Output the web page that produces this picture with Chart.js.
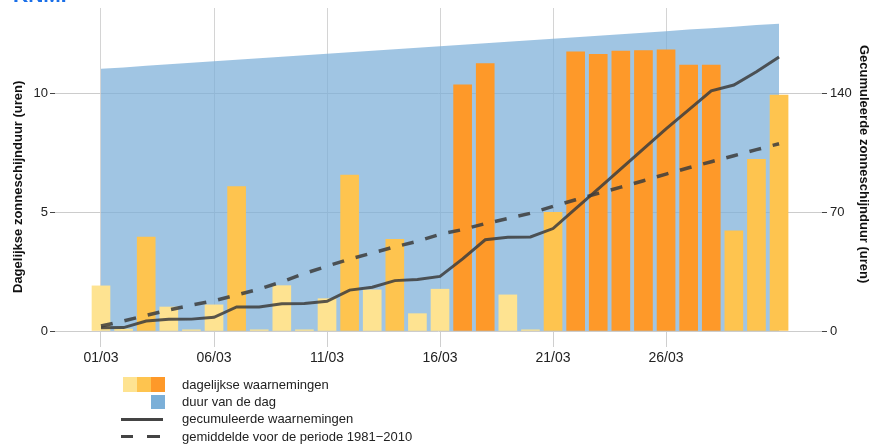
<!DOCTYPE html>
<html>
<head>
<meta charset="utf-8">
<script src="https://cdn.jsdelivr.net/npm/chart.js@4.4.1/dist/chart.umd.min.js"></script>
<style>
  html, body { margin: 0; padding: 0; background: #fff; }
  #wrap { position: relative; width: 874px; height: 446px; overflow: hidden; font-family: "Liberation Sans", Arial, sans-serif; }
  #logo { position: absolute; left: 13px; top: -16px; font: bold 21px/21px "Liberation Sans", Arial, sans-serif; color: #1a6fe8; }
  .sw { position: absolute; }
  .lbl { position: absolute; left: 182px; font-size: 13px; line-height: 16px; color: #222; white-space: nowrap; }
</style>
</head>
<body>
<div id="wrap">
  <canvas id="chart" width="874" height="446"></canvas>
  <div id="logo">KNMI</div>

  <div class="sw" style="left:123px;top:377px;width:14px;height:15px;background:#fee391"></div>
  <div class="sw" style="left:137px;top:377px;width:14px;height:15px;background:#fec44f"></div>
  <div class="sw" style="left:151px;top:377px;width:14px;height:15px;background:#fe9929"></div>
  <div class="lbl" style="top:377px">dagelijkse waarnemingen</div>

  <div class="sw" style="left:151px;top:395px;width:14px;height:14px;background:#7bafd8"></div>
  <div class="lbl" style="top:394px">duur van de dag</div>

  <div class="sw" style="left:121px;top:418px;width:42px;height:3px;background:#444"></div>
  <div class="lbl" style="top:411px">gecumuleerde waarnemingen</div>

  <div class="sw" style="left:121px;top:435px;width:12px;height:3px;background:#444"></div>
  <div class="sw" style="left:147px;top:435px;width:13px;height:3px;background:#444"></div>
  <div class="lbl" style="top:429px">gemiddelde voor de periode 1981−2010</div>
</div>

<script>
// maart, dagnummers
const days = [1, 2, 3, 4, 5, 6, 7, 8, 9, 10, 11, 12, 13, 14, 15, 16,
  17, 18, 19, 20, 21, 22, 23, 24, 25, 26, 27, 28, 29, 30, 31]

// daglengte (uren)
const dayLength = [11.04, 11.10, 11.17, 11.23, 11.29, 11.36, 11.42, 11.48, 11.55, 11.61,
  11.67, 11.74, 11.80, 11.86, 11.93, 11.99, 12.05, 12.12, 12.18, 12.24, 12.31,
  12.37, 12.43, 12.50, 12.56, 12.62, 12.69, 12.75, 12.81, 12.88, 12.94]

// dagelijkse zonneschijnduur (uren)
const sunshine = [1.9, 0.08, 3.95, 1.01, 0.05, 1.1, 6.08, 0.05, 1.91, 0.05, 1.36,
  6.56, 1.73, 3.86, 0.73, 1.76, 10.37, 11.26, 1.52, 0.05, 5.0, 11.75, 11.65,
  11.79, 11.81, 11.84, 11.2, 11.2, 4.22, 7.23, 9.93]

// gecumuleerd (uren)
const cumulative = [1.9, 2.0, 5.9, 6.9, 7.0, 8.1, 14.2, 14.2, 16.1, 16.2, 17.5,
  24.1, 25.8, 29.7, 30.4, 32.2, 42.5, 53.8, 55.3, 55.4, 60.4, 72.1, 83.8, 95.6,
  107.4, 119.2, 130.4, 141.6, 145.0, 152.8, 161.5]

// gemiddelde 1981-2010, gecumuleerd (uren)
const normal = [2.9, 5.9, 9.2, 12.4, 15.3, 17.8, 21.2, 24.7, 29.0, 33.9, 38.2,
  42.4, 46.0, 49.6, 52.9, 57.0, 59.8, 63.3, 66.3, 69.4, 73.5, 77.4, 81.1, 84.8,
  88.6, 92.5, 96.2, 99.8, 103.3, 106.9, 110.4]

const xTicks = [1, 6, 11, 16, 21, 26]
const leftTicks = [0, 5, 10]
const rightTicks = [0, 70, 140]

const FONT = '"Liberation Sans", Arial, sans-serif'

const barColor = (v, i) => {
  const r = v / dayLength[i]
  if (r >= 0.8) return '#fe9929'
  if (r >= 0.3) return '#fec44f'
  return '#fee391'
}

const pts = arr => days.map((d, i) => ({ x: d, y: arr[i] }))

const noPad = s => {
  s.paddingTop = 0
  s.paddingBottom = 0
  s.paddingLeft = 0
  s.paddingRight = 0
}

const axisTitles = {
  id: 'axisTitles',
  afterDraw(chart) {
    const ctx = chart.ctx
    ctx.save()
    ctx.font = 'bold 13px ' + FONT
    ctx.fillStyle = '#111'
    ctx.textBaseline = 'middle'
    ctx.textAlign = 'left'
    ctx.translate(18.5, 293)
    ctx.rotate(-Math.PI / 2)
    ctx.fillText('Dagelijkse zonneschijnduur (uren)', 0, 0)
    ctx.restore()

    ctx.save()
    ctx.font = 'bold 13px ' + FONT
    ctx.fillStyle = '#111'
    ctx.textBaseline = 'middle'
    ctx.textAlign = 'left'
    ctx.translate(864, 45)
    ctx.rotate(Math.PI / 2)
    ctx.fillText('Gecumuleerde zonneschijnduur (uren)', 0, 0)
    ctx.restore()
  }
}

new Chart(document.getElementById('chart').getContext('2d'), {
  type: 'bar',
  data: {
    datasets: [
      {
        type: 'line',
        data: pts(cumulative),
        yAxisID: 'y2',
        borderColor: 'rgba(60,60,60,0.85)',
        borderWidth: 3,
        pointRadius: 0,
        fill: false,
        order: 0,
      },
      {
        type: 'line',
        data: pts(normal),
        yAxisID: 'y2',
        borderColor: 'rgba(60,60,60,0.85)',
        borderWidth: 3.5,
        borderDash: [12, 12],
        pointRadius: 0,
        fill: false,
        order: 1,
      },
      {
        type: 'bar',
        data: pts(sunshine),
        yAxisID: 'y',
        backgroundColor: sunshine.map(barColor),
        barThickness: 18,
        grouped: false,
        order: 2,
      },
      {
        type: 'line',
        data: pts(dayLength),
        yAxisID: 'y',
        backgroundColor: 'rgba(123,175,216,0.72)',
        borderWidth: 0,
        pointRadius: 0,
        fill: 'origin',
        order: 3,
      },
    ],
  },
  options: {
    responsive: false,
    animation: false,
    layout: { padding: { top: 8, left: 0, right: 0, bottom: 0 } },
    plugins: { legend: { display: false }, tooltip: { enabled: false } },
    scales: {
      x: {
        type: 'linear',
        offset: false,
        min: -1.035,
        max: 32.9,
        afterBuildTicks: s => { s.ticks = xTicks.map(v => ({ value: v })) },
        afterFit: s => { s.height = 115; noPad(s) },
        grid: { offset: false, color: '#d4d4d4', tickLength: 16, tickColor: '#cfcfcf' },
        border: { display: false },
        ticks: {
          padding: 3,
          color: '#222',
          font: { family: FONT, size: 14 },
          maxRotation: 0,
          autoSkip: false,
          callback: v => String(v).padStart(2, '0') + '/03',
        },
      },
      y: {
        position: 'left',
        min: 0,
        max: 13.6,
        afterBuildTicks: s => { s.ticks = leftTicks.map(v => ({ value: v })) },
        afterFit: s => { s.width = 55; noPad(s) },
        grid: { color: '#cccccc', tickLength: 5, tickColor: '#444' },
        border: { display: false },
        ticks: { padding: 2, color: '#222', font: { family: FONT, size: 13 } },
      },
      y2: {
        position: 'right',
        min: 0,
        max: 190.4,
        afterBuildTicks: s => { s.ticks = rightTicks.map(v => ({ value: v })) },
        afterFit: s => { s.width = 52; noPad(s) },
        grid: { drawOnChartArea: false, tickLength: 5, tickColor: '#444' },
        border: { display: false },
        ticks: { padding: 3, color: '#222', font: { family: FONT, size: 13 } },
      },
    },
  },
  plugins: [axisTitles],
})
</script>
</body>
</html>
